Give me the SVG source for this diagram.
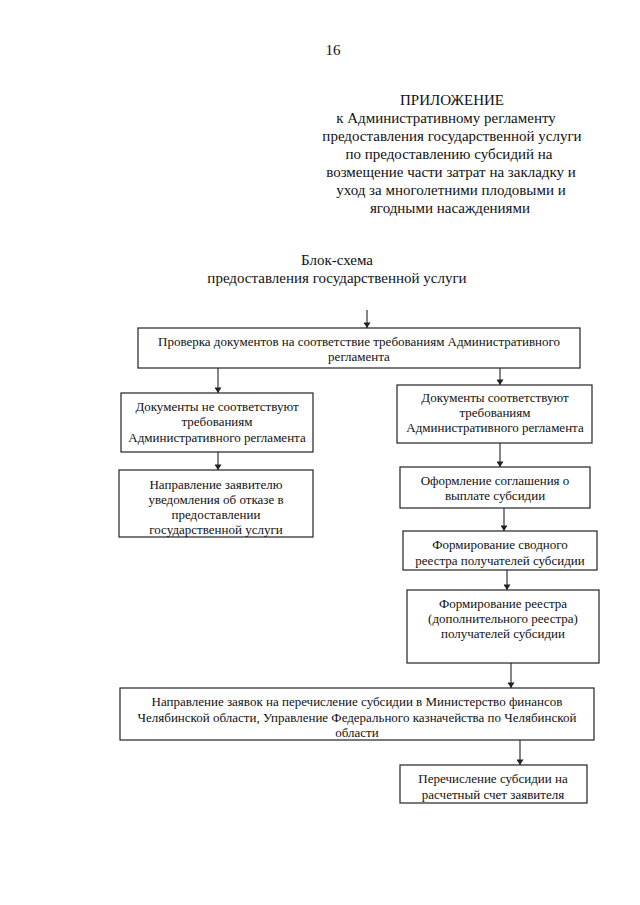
<svg xmlns="http://www.w3.org/2000/svg" width="640" height="905" viewBox="0 0 640 905">
<style>
text{font-family:"Liberation Serif","Times New Roman",serif;fill:#111;text-anchor:middle}
.h{font-size:15px}
.t{font-size:13px}
.box{fill:#fff;stroke:#222;stroke-width:1.2}
.c{stroke:#222;stroke-width:1.1;fill:none;marker-end:url(#ah)}
</style>
<defs>
<marker id="ah" viewBox="0 0 8 10" refX="8" refY="5" markerWidth="6" markerHeight="7" markerUnits="userSpaceOnUse" orient="auto">
<path d="M0,0 L8,5 L0,10 z" fill="#222"/>
</marker>
</defs>
<rect width="640" height="905" fill="#fff"/>
<g id="header">
<text class="h" x="333" y="55">16</text>
<text class="h" x="452" y="105">ПРИЛОЖЕНИЕ</text>
<text class="h" x="446" y="123">к Административному регламенту</text>
<text class="h" x="452" y="141">предоставления государственной услуги</text>
<text class="h" x="449" y="159">по предоставлению субсидий на</text>
<text class="h" x="451" y="177">возмещение части затрат на закладку и</text>
<text class="h" x="451" y="195">уход за многолетними плодовыми и</text>
<text class="h" x="450" y="213">ягодными насаждениями</text>
<text class="h" x="337" y="265">Блок-схема</text>
<text class="h" x="337" y="283">предоставления государственной услуги</text>
</g>
<g id="connectors">
<line class="c" x1="367" y1="310" x2="367" y2="328"/>
<line class="c" x1="218" y1="368" x2="218" y2="393"/>
<line class="c" x1="218" y1="452" x2="218" y2="470"/>
<line class="c" x1="500" y1="368" x2="500" y2="385"/>
<line class="c" x1="500" y1="443" x2="500" y2="467"/>
<line class="c" x1="504" y1="508" x2="504" y2="531"/>
<line class="c" x1="507" y1="570" x2="507" y2="590"/>
<line class="c" x1="511" y1="663" x2="511" y2="688"/>
<line class="c" x1="520" y1="740" x2="520" y2="765"/>
</g>
<g id="n1">
<rect class="box" x="138" y="328" width="442" height="40"/>
<text class="t" x="359" y="346">Проверка документов на соответствие требованиям Административного</text>
<text class="t" x="359" y="361">регламента</text>
</g>
<g id="n2">
<rect class="box" x="121" y="393" width="192" height="59"/>
<text class="t" x="217" y="411">Документы не соответствуют</text>
<text class="t" x="217" y="426">требованиям</text>
<text class="t" x="217" y="442">Административного регламента</text>
</g>
<g id="n3">
<rect class="box" x="119" y="470" width="194" height="67"/>
<text class="t" x="216" y="489">Направление заявителю</text>
<text class="t" x="216" y="504">уведомления об отказе в</text>
<text class="t" x="216" y="519">предоставлении</text>
<text class="t" x="216" y="534">государственной услуги</text>
</g>
<g id="n4">
<rect class="box" x="397" y="385" width="195" height="58"/>
<text class="t" x="495" y="402">Документы соответствуют</text>
<text class="t" x="495" y="417">требованиям</text>
<text class="t" x="495" y="432">Административного регламента</text>
</g>
<g id="n5">
<rect class="box" x="400" y="467" width="190" height="41"/>
<text class="t" x="495" y="485">Оформление соглашения о</text>
<text class="t" x="495" y="500">выплате субсидии</text>
</g>
<g id="n6">
<rect class="box" x="403" y="531" width="194" height="39"/>
<text class="t" x="500" y="549">Формирование сводного</text>
<text class="t" x="500" y="565">реестра получателей субсидии</text>
</g>
<g id="n7">
<rect class="box" x="407" y="590" width="192" height="73"/>
<text class="t" x="503" y="608">Формирование реестра</text>
<text class="t" x="503" y="623">(дополнительного реестра)</text>
<text class="t" x="503" y="638">получателей субсидии</text>
</g>
<g id="n8">
<rect class="box" x="120" y="688" width="474" height="52"/>
<text class="t" x="357" y="706">Направление заявок на перечисление субсидии в Министерство финансов</text>
<text class="t" x="357" y="722">Челябинской области, Управление Федерального казначейства по Челябинской</text>
<text class="t" x="357" y="737">области</text>
</g>
<g id="n9">
<rect class="box" x="400" y="765" width="187" height="38"/>
<text class="t" x="493" y="783">Перечисление субсидии на</text>
<text class="t" x="493" y="799">расчетный счет заявителя</text>
</g>
</svg>
